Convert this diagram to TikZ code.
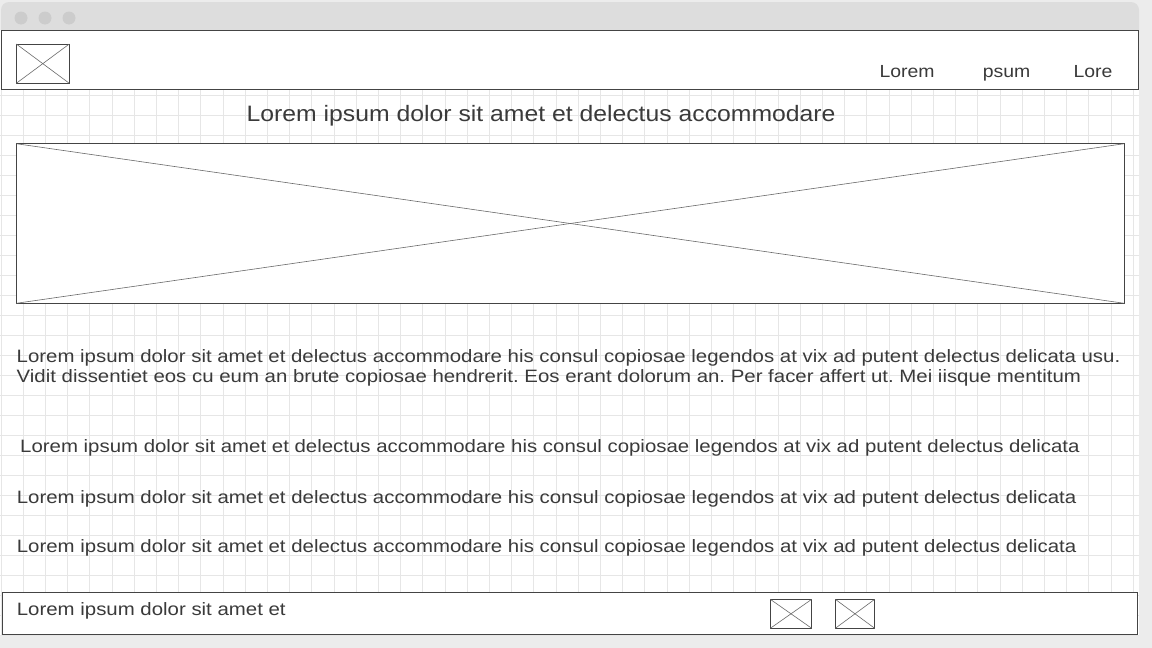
\documentclass[tikz,border=0pt]{standalone}
\usepackage{fontspec}
\setmainfont{Liberation Sans}[FakeStretch=1.11]
\newfontfamily\bodyfont{Liberation Sans}[FakeStretch=1.14]
\frenchspacing
\usetikzlibrary{positioning}
\definecolor{frame}{HTML}{444444}
\definecolor{ink}{HTML}{3A3A3A}
\definecolor{gridline}{HTML}{E6E6E6}
\definecolor{barfill}{HTML}{DDDDDD}
\definecolor{dotfill}{HTML}{CCCCCC}
\definecolor{outside}{HTML}{ECECEC}
\newcommand{\imgbox}[4]{
  \node[imgframe, minimum width=#3, minimum height=#4] (#1) at (#2) {};
  \draw[cross] (#1.north west) -- (#1.south east);
  \draw[cross] (#1.north east) -- (#1.south west);
}
\tikzset{x=1pt, y=-1pt}
\tikzset{imgframe/.style = {draw=frame, fill=white, line width=0.9pt,
                            anchor=north west, inner sep=0pt, outer sep=0pt},
         cross/.style    = {draw=frame!80, line width=0.6pt},
         panel/.style    = {draw=frame, fill=white, line width=0.9pt,
                            anchor=north west, inner sep=0pt, outer sep=0pt},
         txt/.style      = {anchor=base west, inner sep=0pt, text=ink,
                            font=\fontsize{17.5}{20}\selectfont},
         bodytxt/.style  = {txt, font=\bodyfont\fontsize{17.9}{20}\selectfont},
         headline/.style = {txt, font=\fontsize{22.3}{26}\selectfont},
         dot/.style      = {circle, fill=dotfill, minimum size=13pt, inner sep=0pt}}

\begin{document}
\begin{tikzpicture}
  \useasboundingbox[fill=outside] (0,0) rectangle (1152,648);
  % browser window
  \fill[barfill, rounded corners=8pt] (1,2) rectangle (1139,40);
  \fill[white] (0,30) rectangle (1139,635);
  \begin{scope}
    \clip (0,89) rectangle (1139,635);
    \foreach \gx in {0,...,51}
      \draw[gridline, line width=0.8pt] (1+22.2*\gx,89) -- (1+22.2*\gx,635);
    \foreach \gy in {4,...,31}
      \draw[gridline, line width=0.8pt] (0,15+20*\gy) -- (1139,15+20*\gy);
  \end{scope}
  \node[dot] (dot1) at (21,18) {};
  \node[dot] (dot2) at (45,18) {};
  \node[dot] (dot3) at (69,18) {};

  % header
  \node[panel, minimum width=1137pt, minimum height=58.8pt] (header) at (1,30.5) {};
  \imgbox{logo}{16.3,44}{53pt}{39.3pt}
  \node[txt] (nav1) at (879.3,77) {Lorem};
  \node[txt] (nav2) at (982.7,77) {psum};
  \node[txt] (nav3) at (1073.3,77) {Lore};

  % content
  \node[headline] (title) at (246.5,121) {Lorem ipsum dolor sit amet et delectus accommodare};
  \imgbox{banner}{16.3,143.7}{1108pt}{159.6pt}
  \node[bodytxt] (para1) at (16.5,362) {Lorem ipsum dolor sit amet et delectus accommodare his consul copiosae legendos at vix ad putent delectus delicata usu.};
  \node[bodytxt] (para2) at (16.5,382.5) {Vidit dissentiet eos cu eum an brute copiosae hendrerit. Eos erant dolorum an. Per facer affert ut. Mei iisque mentitum};
  \node[bodytxt] (item1) at (20,452.7) {Lorem ipsum dolor sit amet et delectus accommodare his consul copiosae legendos at vix ad putent delectus delicata};
  \node[bodytxt] (item2) at (16.7,503.5) {Lorem ipsum dolor sit amet et delectus accommodare his consul copiosae legendos at vix ad putent delectus delicata};
  \node[bodytxt] (item3) at (16.7,552.7) {Lorem ipsum dolor sit amet et delectus accommodare his consul copiosae legendos at vix ad putent delectus delicata};

  % footer
  \node[panel, minimum width=1135pt, minimum height=41.7pt] (footer) at (2.3,592.3) {};
  \node[bodytxt] (foottext) at (16.7,615.7) {Lorem ipsum dolor sit amet et};
  \imgbox{icon1}{770.3,599.3}{41.4pt}{29pt}
  \imgbox{icon2}{835.3,599.3}{39.4pt}{29pt}
\end{tikzpicture}
\end{document}
